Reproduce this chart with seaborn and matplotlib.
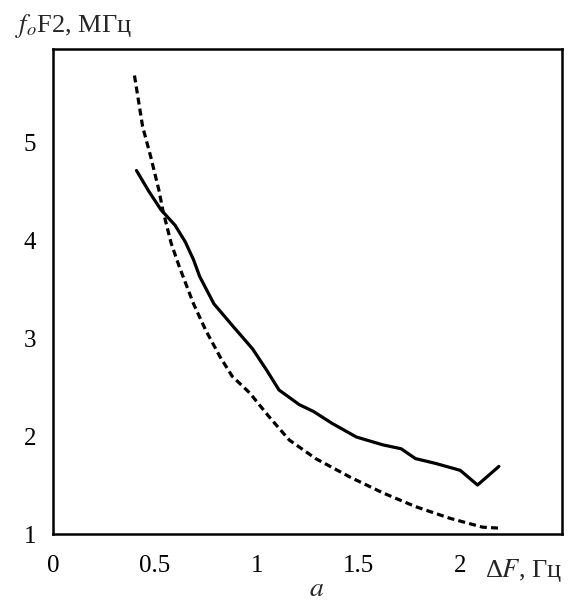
import matplotlib
matplotlib.use('Agg')
import matplotlib.pyplot as plt
import pandas as pd
import seaborn as sns

sns.set_style('white')
plt.rcParams['font.family'] = ['Liberation Serif', 'DejaVu Serif']
plt.rcParams['mathtext.fontset'] = 'stix'

# solid curve
solid_x = [0.41, 0.47, 0.53, 0.60, 0.65, 0.69, 0.72, 0.79, 0.88, 0.98, 1.05, 1.11,
           1.21, 1.28, 1.37, 1.49, 1.62, 1.71, 1.78, 1.88, 2.00, 2.085, 2.19]
solid_y = [4.71, 4.50, 4.31, 4.15, 3.98, 3.80, 3.63, 3.35, 3.13, 2.89, 2.67, 2.47,
           2.32, 2.25, 2.13, 1.99, 1.91, 1.87, 1.77, 1.72, 1.65, 1.50, 1.69]
# dashed curve
dash_x = [0.40, 0.44, 0.48, 0.52, 0.54, 0.58, 0.62, 0.69, 0.75, 0.82, 0.88, 0.966,
          1.06, 1.16, 1.29, 1.46, 1.62, 1.78, 1.95, 2.11, 2.19]
dash_y = [5.68, 5.16, 4.85, 4.51, 4.30, 3.97, 3.73, 3.35, 3.08, 2.81, 2.61, 2.44,
          2.20, 1.96, 1.77, 1.58, 1.42, 1.28, 1.16, 1.07, 1.06]
x_ticks = [0, 0.5, 1, 1.5, 2]
x_labels = ['0', '0.5', '1', '1.5', '2']
y_ticks = [1, 2, 3, 4, 5]

fig = plt.figure(figsize=(5.7, 6.03), dpi=100)
ax = fig.add_axes([0.093, 0.1144, 0.893, 0.8043])

solid = pd.DataFrame({'x': solid_x, 'y': solid_y})
dashed = pd.DataFrame({'x': dash_x, 'y': dash_y})
sns.lineplot(data=solid, x='x', y='y', sort=False, color='black', lw=2.3, ax=ax)
sns.lineplot(data=dashed, x='x', y='y', sort=False, color='black', lw=2.3, ax=ax,
             linestyle=(0, (2.2, 1.3)))

ax.set_xlim(0, 2.5)
ax.set_ylim(1, 5.95)
ax.set_xticks(x_ticks)
ax.set_xticklabels(x_labels, fontfamily='Liberation Serif')
ax.set_yticks(y_ticks)
ax.set_yticklabels([str(v) for v in y_ticks], fontfamily='Liberation Serif')
ax.tick_params(direction='in', length=7, width=1.6, labelsize=18, pad=12, colors='black')
ax.tick_params(axis='x', pad=15)
for s in ax.spines.values():
    s.set_linewidth(1.8)
    s.set_color('black')
ax.set_xlabel('')
ax.set_ylabel('')

fig.text(0.027, 0.947, '$f_o$F2, МГц', fontsize=19, ha='left', va='baseline',
         fontfamily='Liberation Serif')
fig.text(0.986, 0.043, 'Δ$F$, Гц', fontsize=19, ha='right', va='baseline',
         fontfamily='Liberation Serif')
fig.text(0.555, 0.012, '$a$', fontsize=20, ha='center', va='baseline')

plt.savefig('out.png', dpi=100)
plt.close()
